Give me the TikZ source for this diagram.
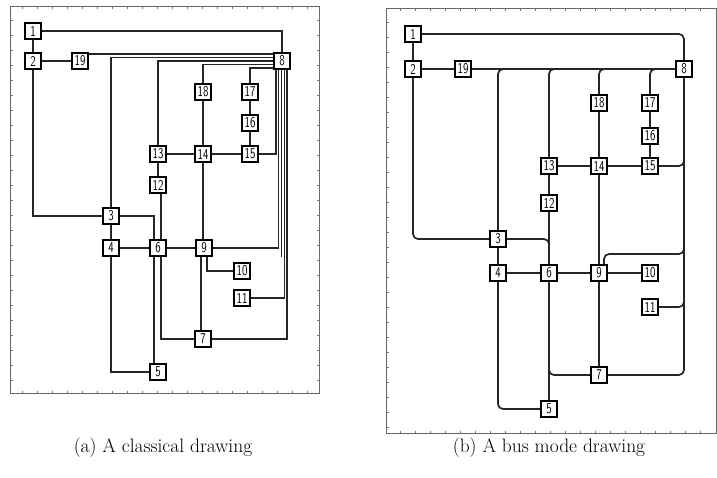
\documentclass[tikz,border=0pt]{standalone}
\usepackage{graphicx}
\usetikzlibrary{backgrounds}

% node label squeezed horizontally, like the narrow digits of the drawing tool
\newcommand\nlab[1]{\scalebox{0.74}[1]{#1}}

\tikzset{
  vbox/.style={draw=black, line width=1.2pt, fill=white, minimum width=16pt,
    minimum height=16pt, inner sep=0pt,
    preaction={draw=black!45, line width=2.8pt},
    font=\sffamily\fontsize{15}{15}\selectfont},
  wire/.style={draw=black!85, line width=1.7pt},
  thinwire/.style={draw=black!85, line width=1.25pt},
  rc/.style={rounded corners=5pt},
  frame/.style={draw=black!60, line width=0.9pt},
  tickmark/.style={draw=black!55, line width=0.6pt},
  captext/.style={font=\fontsize{19.5}{23}\selectfont, inner sep=0pt}
}

\begin{document}
\begin{tikzpicture}[x=1pt, y=-1pt]
\useasboundingbox (0,0) rectangle (717,477);

% ---------------- (a) classical drawing: nodes ----------------
\node[vbox] (a1)  at (33,31)   {\nlab{1}};
\node[vbox] (a2)  at (33,61)   {\nlab{2}};
\node[vbox] (a19) at (80,61)   {\nlab{19}};
\node[vbox] (a8)  at (282,61)  {\nlab{8}};
\node[vbox] (a18) at (203,92)  {\nlab{18}};
\node[vbox] (a17) at (250,92)  {\nlab{17}};
\node[vbox] (a16) at (250,123) {\nlab{16}};
\node[vbox] (a13) at (158,154) {\nlab{13}};
\node[vbox] (a14) at (203,154) {\nlab{14}};
\node[vbox] (a15) at (250,154) {\nlab{15}};
\node[vbox] (a12) at (158,185) {\nlab{12}};
\node[vbox] (a3)  at (111,216) {\nlab{3}};
\node[vbox] (a4)  at (111,248) {\nlab{4}};
\node[vbox] (a6)  at (158,248) {\nlab{6}};
\node[vbox] (a9)  at (204,248) {\nlab{9}};
\node[vbox] (a10) at (242,271) {\nlab{10}};
\node[vbox] (a11) at (242,298) {\nlab{11}};
\node[vbox] (a7)  at (203,339) {\nlab{7}};
\node[vbox] (a5)  at (158,372) {\nlab{5}};
\coordinate (aend) at (281.5,257);

% ---------------- (b) bus mode drawing: nodes ----------------
\node[vbox] (b1)  at (413,34)  {\nlab{1}};
\node[vbox] (b2)  at (413,69)  {\nlab{2}};
\node[vbox] (b19) at (463,69)  {\nlab{19}};
\node[vbox] (b8)  at (684,69)  {\nlab{8}};
\node[vbox] (b18) at (599,103) {\nlab{18}};
\node[vbox] (b17) at (650,103) {\nlab{17}};
\node[vbox] (b16) at (650,136) {\nlab{16}};
\node[vbox] (b13) at (549,166) {\nlab{13}};
\node[vbox] (b14) at (599,166) {\nlab{14}};
\node[vbox] (b15) at (650,166) {\nlab{15}};
\node[vbox] (b12) at (549,203) {\nlab{12}};
\node[vbox] (b3)  at (498,239) {\nlab{3}};
\node[vbox] (b4)  at (498,273) {\nlab{4}};
\node[vbox] (b6)  at (549,273) {\nlab{6}};
\node[vbox] (b9)  at (599,273) {\nlab{9}};
\node[vbox] (b10) at (650,273) {\nlab{10}};
\node[vbox] (b11) at (650,307) {\nlab{11}};
\node[vbox] (b7)  at (599,375) {\nlab{7}};
\node[vbox] (b5)  at (549,409) {\nlab{5}};
% joints on the horizontal bus and on the vertical bus
\coordinate (j3)  at (508,69);
\coordinate (j13) at (560,69);
\coordinate (j18) at (610,69);
\coordinate (j17) at (661,69);
\coordinate (k15) at (684,154);
\coordinate (k9)  at (684,243);
\coordinate (k11) at (684,296);

% captions
\node[captext] (capa) at (163,448) {(a) A classical drawing};
\node[captext] (capb) at (549,448) {(b) A bus mode drawing};

\begin{scope}[on background layer]
  % ruler frames
  \draw[frame] (10,6) rectangle (319.5,393.5);
  \draw[frame] (386,8.5) rectangle (716,433);
  \foreach \t in {20,35,...,390} {
    \draw[tickmark] (10,\t) -- (12.5,\t);
    \draw[tickmark] (319.5,\t) -- (317,\t);
  }
  \foreach \t in {22,37,...,318} {
    \draw[tickmark] (\t,6) -- (\t,8.5);
    \draw[tickmark] (\t,393.5) -- (\t,391);
  }
  \foreach \t in {22,37,...,430} \draw[tickmark] (386,\t) -- (388.5,\t);
  \foreach \t in {400,415,...,714} {
    \draw[tickmark] (\t,8.5) -- (\t,11);
    \draw[tickmark] (\t,433) -- (\t,430.5);
  }

  % ---------------- (a) connectors ----------------
  \path[wire] (a1) -- (a2);
  \path[wire] (a1.east) -| (a8.north);
  \path[wire] (a2) -- (a19);
  % the fan of edges entering node 8 from the left
  \path[thinwire] (a19.east |- 0,54) -- (a8.west |- 0,54);
  \path[thinwire] (a3.north) |- (a8.west |- 0,57.5);
  \path[thinwire] (a13.north) |- (a8.west);
  \path[thinwire] (a18.north) |- (a8.west |- 0,64.5);
  \path[thinwire] (a17.north) |- (a8.west |- 0,68);
  \path[wire] (a17) -- (a16);
  \path[wire] (a16) -- (a15);
  \path[wire] (a13) -- (a14);
  \path[wire] (a14) -- (a15);
  \path[wire] (a18) -- (a14);
  \path[wire] (a14.south -| 203,0) -- (a9.north -| 203,0);
  \path[wire] (a13) -- (a12);
  % the bundle leaving node 8 downwards
  \path[thinwire] (a15.east) -| (a8.south -| 276,0);
  \path[thinwire] (a9.east) -| (a8.south -| 278.8,0);
  \path[thinwire] (a8.south -| 281.5,0) -- (aend);
  \path[thinwire] (a11.east) -| (a8.south -| 284.2,0);
  \path[thinwire] (a7.east) -| (a8.south -| 287,0);
  \path[wire] (a2.south) |- (a3.west);
  \path[wire] (a3) -- (a4);
  \path[wire] (a4.south) |- (a5.west);
  \path[wire] (a3.east) -| (a6.north -| 154,0);
  \path[wire] (a6.south -| 154,0) -- (a5.north -| 154,0);
  \path[wire] (a12.south -| 161,0) -- (a6.north -| 161,0);
  \path[wire] (a6.south -| 161,0) |- (a7.west);
  \path[wire] (a4) -- (a6);
  \path[wire] (a6) -- (a9);
  \path[wire] (a9.south -| 207,0) |- (a10.west);
  \path[wire] (a9.south -| 201,0) -- (a7.north -| 201,0);

  % ---------------- (b) connectors ----------------
  \path[wire, rc] (b1.east) -| (b8.north);
  \path[wire] (b1) -- (b2);
  \path[wire] (b2) -- (b19);
  \path[wire] (b19) -- (b8);
  \path[wire, rc] (b3.north) |- (j3);
  \path[wire, rc] (b13.north) |- (j13);
  \path[wire, rc] (b17.north) |- (j17);
  \path[wire, rc] (b18.north) |- (j18);
  \path[wire] (b17) -- (b16);
  \path[wire] (b16) -- (b15);
  \path[wire] (b13) -- (b14);
  \path[wire] (b14) -- (b15);
  \path[wire] (b18) -- (b14);
  \path[wire] (b14) -- (b9);
  \path[wire] (b9) -- (b7);
  \path[wire] (b13) -- (b12);
  \path[wire] (b12) -- (b6);
  \path[wire] (b6) -- (b5);
  \path[wire, rc] (b2.south) |- (b3.west);
  \path[wire, rc] (b3.east) -| (b6.north);
  \path[wire] (b3) -- (b4);
  \path[wire, rc] (b4.south) |- (b5.west);
  \path[wire] (b4) -- (b6);
  \path[wire] (b6) -- (b9);
  \path[wire] (b9) -- (b10);
  \path[wire, rc] (b6.south) |- (b7.west);
  \path[wire, rc] (b7.east) -| (b8.south);
  \path[wire, rc] (b15.east) -| (k15);
  \path[wire, rc] (b11.east) -| (k11);
  \path[wire, rc] (b9.north -| 604,0) |- (684,254) -- (k9);
\end{scope}
\end{tikzpicture}
\end{document}
